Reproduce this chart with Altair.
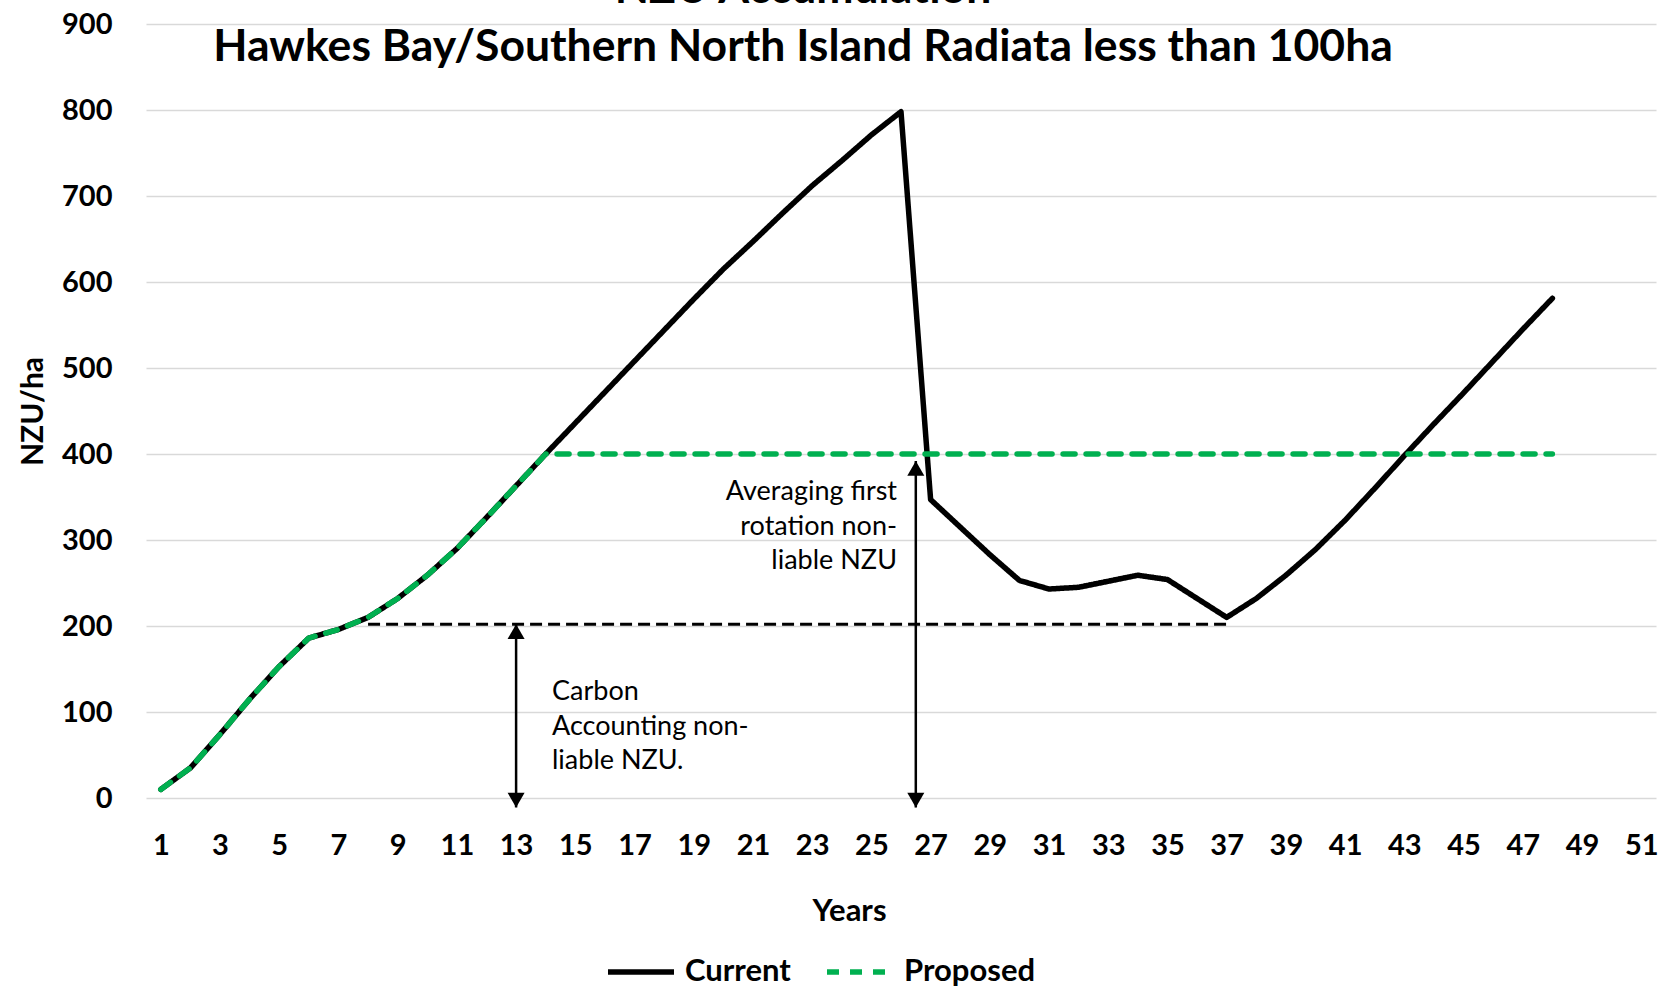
import altair as alt
import pandas as pd

# Yearly NZU/ha stock per hectare
years = list(range(1, 49))
current = [10, 35, 74, 115, 153, 186, 196, 210, 232, 259, 290, 326, 363, 400,
           436, 472, 508, 544, 580, 615, 647, 680, 712, 741, 771, 798,
           347, 315, 283, 253, 243, 245, 252, 259, 254, 232, 210,
           232, 259, 289, 323, 360, 398, 435, 471, 508, 545, 581]
proposed = [10, 35, 74, 115, 153, 186, 196, 210, 232, 259, 290, 326, 363, 400,
            400, 400, 400, 400, 400, 400, 400, 400, 400, 400, 400, 400,
            400, 400, 400, 400, 400, 400, 400, 400, 400, 400, 400,
            400, 400, 400, 400, 400, 400, 400, 400, 400, 400, 400]
series_names = ["Current", "Proposed"]
series_colors = ["#000000", "#00B050"]

# Carbon accounting non-liable level
ca_level = [202]
ca_start = [8]
ca_end = [37]

# Double-headed arrows
arrow_years = [13, 26.5]
arrow_tops = [202, 392]
arrow_bottoms = [-11, -11]

x_ticks = list(range(1, 52, 2))
y_ticks = list(range(0, 1000, 100))

title_lines = ["NZU Accumulation",
               "Hawkes Bay/Southern North Island Radiata less than 100ha"]
note_avg = "Averaging first\nrotation non-\nliable NZU"
note_ca = "Carbon\nAccounting non-\nliable NZU."

FONT = "Lato"

df = pd.DataFrame({
    "year": years * 2,
    "value": current + proposed,
    "series": ["Current"] * len(years) + ["Proposed"] * len(years),
})

x_scale = alt.Scale(domain=[0.5, 51.5], nice=False, zero=False)
y_scale = alt.Scale(domain=[0, 900], nice=False)

x_axis = alt.Axis(values=x_ticks, title="Years", grid=False, ticks=False, domain=False,
                  labelFont=FONT, labelFontSize=29, labelFontWeight="bold", labelColor="black",
                  labelBaseline="alphabetic", labelPadding=56, labelFlush=False, labelOverlap=False,
                  titleFont=FONT, titleFontSize=31, titleFontWeight="bold", titleColor="black",
                  titleX=703, titleY=122, titleBaseline="alphabetic", titleAlign="center")
y_axis = alt.Axis(values=y_ticks, title="NZU/ha", grid=True, gridColor="#D9D9D9", gridWidth=1.5,
                  ticks=False, domain=False,
                  labelFont=FONT, labelFontSize=29, labelFontWeight="bold", labelColor="black",
                  labelPadding=34,
                  titleFont=FONT, titleFontSize=30, titleFontWeight="bold", titleColor="black",
                  titleX=-113, titleY=387, titleAngle=-90, titleAlign="center",
                  titleBaseline="middle")

legend = alt.Legend(title=None, orient="none", legendX=459, legendY=912,
                    direction="horizontal", symbolType="stroke", symbolSize=4356,
                    symbolStrokeWidth=5.5, labelFont=FONT, labelFontSize=31,
                    labelFontWeight="bold", labelColor="black", labelOffset=8,
                    columnPadding=25, labelLimit=0)

lines = alt.Chart(df).mark_line(strokeWidth=5.5, strokeCap="round", strokeJoin="round").encode(
    x=alt.X("year:Q", scale=x_scale, axis=x_axis),
    y=alt.Y("value:Q", scale=y_scale, axis=y_axis),
    color=alt.Color("series:N", scale=alt.Scale(domain=series_names, range=series_colors),
                    legend=legend),
    strokeDash=alt.StrokeDash("series:N",
                              scale=alt.Scale(domain=series_names, range=[[1, 0], [12, 11]]),
                              legend=legend),
)

ca_df = pd.DataFrame({"year": ca_start, "year_end": ca_end, "value": ca_level})
ca_rule = alt.Chart(ca_df).mark_rule(color="black", strokeWidth=3, strokeDash=[12, 6]).encode(
    x="year:Q", x2="year_end:Q", y="value:Q")

arrow_df = pd.DataFrame({"year": arrow_years, "value": arrow_tops, "value_end": arrow_bottoms})
arrow_shaft = alt.Chart(arrow_df).mark_rule(color="black", strokeWidth=2.5).encode(
    x="year:Q", y="value:Q", y2="value_end:Q")
arrow_up = alt.Chart(arrow_df).mark_point(shape="triangle-up", filled=True, size=290,
                                          color="black", opacity=1, yOffset=7.4).encode(
    x="year:Q", y="value:Q")
arrow_down = alt.Chart(arrow_df).mark_point(shape="triangle-down", filled=True, size=290,
                                            color="black", opacity=1, yOffset=-7.4).encode(
    x="year:Q", y="value_end:Q")

titles_df = pd.DataFrame({"t": title_lines, "ty": [-21, 37]})
titles = alt.Chart(titles_df).mark_text(font=FONT, fontSize=44.5, fontWeight="bold",
                                        color="black", align="center",
                                        baseline="alphabetic").encode(
    x=alt.value(657), y=alt.Y("ty:Q", scale=None), text="t:N")

note_avg_t = alt.Chart(pd.DataFrame({"t": [note_avg]})).mark_text(
    font=FONT, fontSize=27, color="black", align="right", baseline="alphabetic",
    lineBreak="\n", lineHeight=34.6).encode(x=alt.value(751), y=alt.value(476), text="t:N")
note_ca_t = alt.Chart(pd.DataFrame({"t": [note_ca]})).mark_text(
    font=FONT, fontSize=27, color="black", align="left", baseline="alphabetic",
    lineBreak="\n", lineHeight=34.6).encode(x=alt.value(406), y=alt.value(676), text="t:N")

chart = alt.layer(
    ca_rule, arrow_shaft, arrow_up, arrow_down, lines, titles, note_avg_t, note_ca_t
).properties(
    width=1510, height=774,
    autosize=alt.AutoSizeParams(type="none"),
    padding={"left": 146, "top": 24, "right": 2, "bottom": 190},
    background="white",
).configure_view(stroke=None)

chart.save("out.html", embed_options={"renderer": "svg", "actions": False})
